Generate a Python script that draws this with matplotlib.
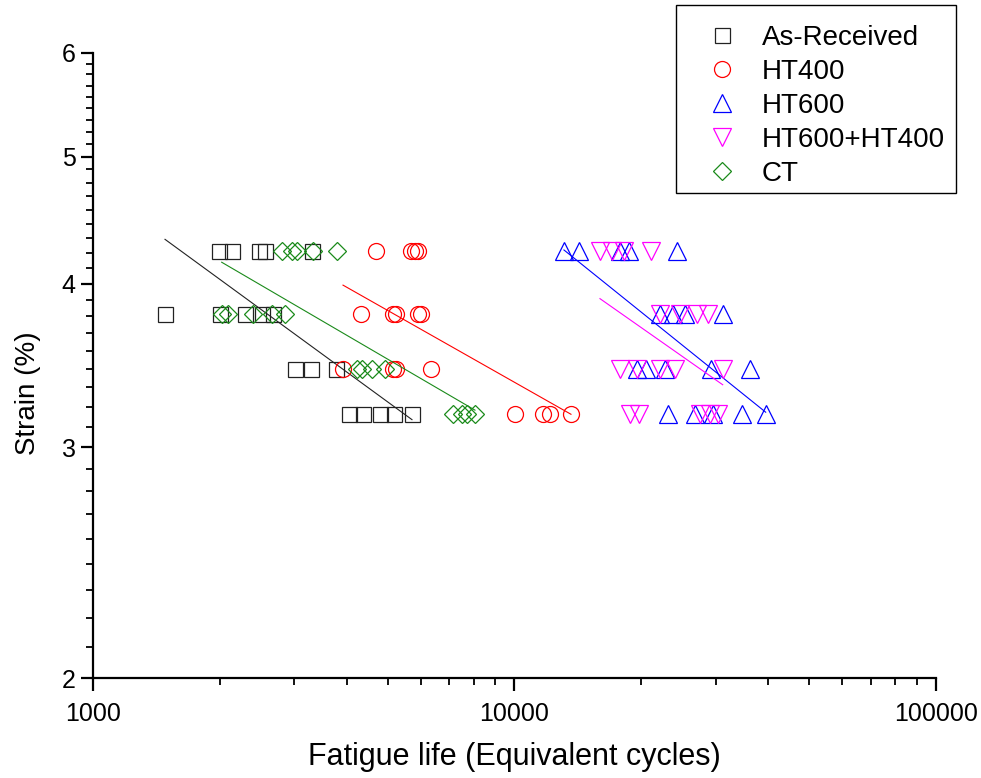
import numpy as np
import matplotlib
matplotlib.use("Agg")
import matplotlib.pyplot as plt
from matplotlib.patches import Rectangle
from matplotlib.ticker import FixedLocator, NullFormatter, FixedFormatter

# poziomy odksztalcenia (%)
s1, s2, s3, s4 = 4.24, 3.79, 3.44, 3.18

ar_n = [1994, 2134, 2481, 2559, 3314,
        1482, 2000, 2294, 2518, 2673,
        3015, 3290, 3772,
        4050, 4371, 4797, 5177, 5712]
ar_s = [s1] * 5 + [s2] * 5 + [s3] * 3 + [s4] * 5

ht400_n = [4685, 5681, 5806, 5902,
           4324, 5158, 5235, 5912, 6000,
           3919, 5158, 5235, 6339,
           10027, 11683, 12140, 13614]
ht400_s = [s1] * 4 + [s2] * 5 + [s3] * 4 + [s4] * 4

ht600_n = [13103, 14223, 17793, 18727, 24336,
           22137, 23807, 25380, 31189,
           19496, 20511, 22752, 29212, 36218,
           23170, 26810, 29630, 34593, 39446]
ht600_s = [s1] * 5 + [s2] * 4 + [s3] * 5 + [s4] * 5

ht64_n = [15951, 17030, 18189, 21083,
          22137, 24697, 27057, 28830,
          17793, 19496, 22137, 24033, 31189,
          18793, 19743, 27548, 29097, 30394]
ht64_s = [s1] * 4 + [s2] * 4 + [s3] * 5 + [s4] * 5

ct_n = [2803, 2961, 3043, 3332, 3786,
        2020, 2094, 2401, 2655, 2855,
        4223, 4340, 4584, 4928,
        7159, 7492, 7701, 8059]
ct_s = [s1] * 5 + [s2] * 5 + [s3] * 4 + [s4] * 4

labels = ["As-Received", "HT400", "HT600", "HT600+HT400", "CT"]
y_ticks = [2, 3, 4, 5, 6]


def fit_line(n, s):
    # dopasowanie liniowe w skali log-log, rysowane w zakresie danych
    lx = np.log10(n)
    ly = np.log10(s)
    a, b = np.polyfit(lx, ly, 1)
    xs = np.array([min(lx), max(lx)])
    return 10 ** xs, 10 ** (a * xs + b)


def main():
    plt.rcParams['font.family'] = ['Liberation Sans', 'DejaVu Sans']
    W, H = 981, 778
    fig = plt.figure(figsize=(W / 100, H / 100), dpi=100)
    ax = fig.add_axes([0.0948, 0.1285, 0.8593, 0.8034])

    series = [
        (ar_n, ar_s, 's', '#222222', 10.8),
        (ht400_n, ht400_s, 'o', '#ff0000', 11.5),
        (ht600_n, ht600_s, '^', '#0000ff', 13.5),
        (ht64_n, ht64_s, 'v', '#ff00ff', 13.5),
        (ct_n, ct_s, 'D', '#1a8a1a', 9.2),
    ]

    handles = []
    for (n, s, m, c, ms), lab in zip(series, labels):
        h, = ax.plot(n, s, linestyle='none', marker=m, markersize=ms,
                     markerfacecolor='none', markeredgecolor=c,
                     markeredgewidth=0.9, label=lab)
        handles.append(h)
        fx, fy = fit_line(n, s)
        ax.plot(fx, fy, color=c, linewidth=0.8)

    ax.set_xscale('log')
    ax.set_yscale('log')
    ax.set_xlim(1000, 100000)
    ax.set_ylim(2, 6)

    # osie tylko z lewej i na dole
    ax.spines['top'].set_visible(False)
    ax.spines['right'].set_visible(False)
    ax.spines['left'].set_linewidth(1.6)
    ax.spines['bottom'].set_linewidth(1.6)

    ax.set_xticks([1000, 10000, 100000])
    ax.set_xticklabels(["1000", "10000", "100000"])
    ax.yaxis.set_major_locator(FixedLocator(y_ticks))
    ax.yaxis.set_major_formatter(FixedFormatter([str(v) for v in y_ticks]))
    minor_y = [v + k / 9 for v in y_ticks[:-1] for k in range(1, 9)]
    ax.yaxis.set_minor_locator(FixedLocator(minor_y))
    ax.yaxis.set_minor_formatter(NullFormatter())
    ax.xaxis.set_minor_formatter(NullFormatter())

    ax.tick_params(which='major', direction='out', length=9, width=1.6,
                   labelsize=18)
    ax.tick_params(which='minor', direction='out', length=5, width=1.3)
    ax.tick_params(axis='x', pad=8)

    ax.set_xlabel("Fatigue life (Equivalent cycles)", fontsize=22, labelpad=12)
    ax.set_ylabel("Strain (%)", fontsize=20)
    ax.yaxis.set_label_coords(-0.062, 0.456)

    # legenda bez ramki + osobna ramka (wiekszy odstep u gory)
    ax.legend(handles=handles, loc='upper left',
              bbox_to_anchor=(676 / W, 1 - 11 / H),
              bbox_transform=fig.transFigure,
              fontsize=20, frameon=False, borderpad=0.5, labelspacing=0.29,
              handlelength=2.3, handletextpad=0.3,
              borderaxespad=0, markerscale=1.0)
    fig.patches.append(Rectangle((676 / W, 1 - 193 / H), 280 / W, 188 / H,
                                 transform=fig.transFigure, fill=False,
                                 edgecolor='black', linewidth=1.0))

    fig.savefig("out.png", dpi=100)


if __name__ == "__main__":
    main()
